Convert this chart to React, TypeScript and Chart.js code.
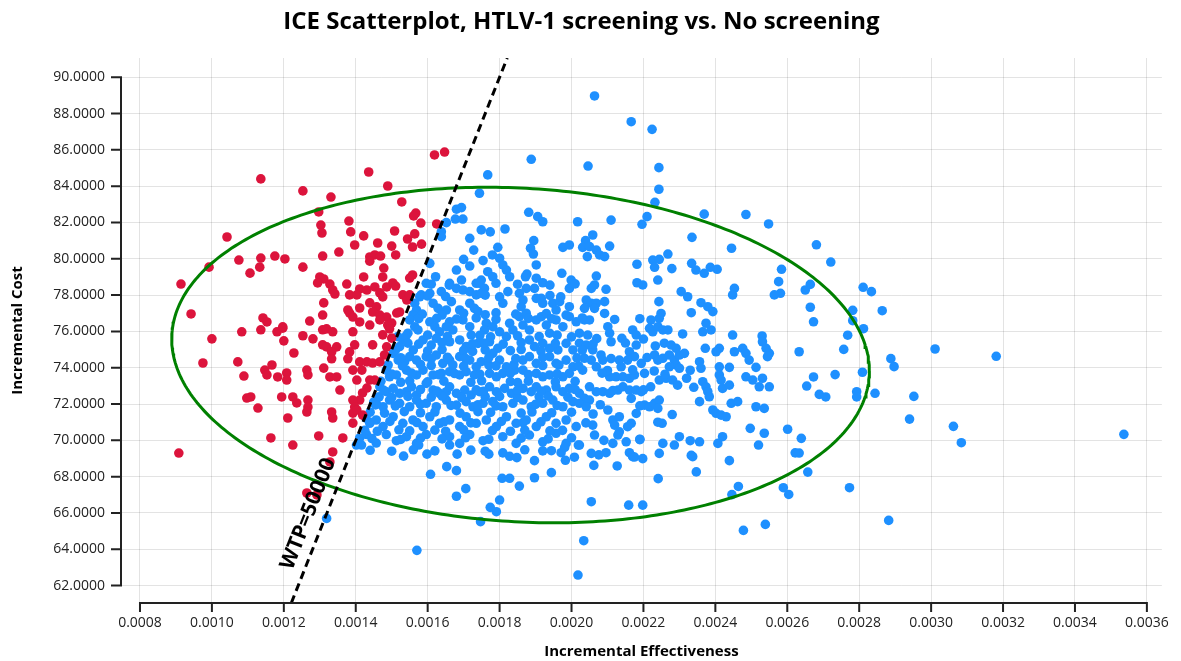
import React, { useEffect, useRef } from "react";
import { Chart, registerables } from "chart.js";

Chart.register(...registerables);

const TITLE = "ICE Scatterplot, HTLV-1 screening vs. No screening";
const X_LABEL = "Incremental Effectiveness";
const Y_LABEL = "Incremental Cost";
const WTP = 50000;
const WTP_LABEL = "WTP=50000";

const xTicks = [0.0008, 0.001, 0.0012, 0.0014, 0.0016, 0.0018, 0.002, 0.0022, 0.0024, 0.0026, 0.0028, 0.003, 0.0032, 0.0034, 0.0036];
const yTicks = [62, 64, 66, 68, 70, 72, 74, 76, 78, 80, 82, 84, 86, 88, 90];
const xRange = [0.0007472, 0.0036417];
const yRange = [61.04, 91.06];

// 95% confidence ellipse (data units)
const ellipseCenter = [0.0018583, 74.7];
const ellipseHalfWidth = 0.00097;
const ellipseTilt = -0.88;
const ellipseHalfHeight = 9.2;

// Not cost-effective simulations (above WTP line)
const notCostEffective: [number, number][] = [
[0.001619,85.72],[0.001647,85.88],[0.001436,84.78],[0.001136,84.40],[0.001489,84.01],[0.001253,83.74],[0.001331,83.40],[0.001528,83.13],[0.001297,82.58],[0.001567,82.52],[0.001561,82.36],[0.001381,82.08],[0.001303,81.86],[0.001306,81.42],[0.001581,81.97],[0.001625,81.92],[0.001508,81.53],[0.001386,81.48],[0.001042,81.20],[0.001422,81.26],[0.001544,81.09],[0.001564,81.37],[0.001461,80.87],[0.001397,80.76],[0.001558,80.65],[0.001583,80.81],[0.001500,80.70],[0.001353,80.37],[0.001308,80.15],[0.001511,80.21],[0.001439,80.10],[0.001453,80.21],[0.001469,80.15],[0.001439,79.87],[0.001075,79.93],[0.001136,80.04],[0.001133,79.54],[0.001175,80.15],[0.001203,79.99],[0.000992,79.54],[0.001253,79.54],[0.001106,79.21],[0.001478,79.49],[0.001558,79.11],[0.001550,78.94],[0.000914,78.61],[0.001300,79.00],[0.001311,78.89],[0.001294,78.67],[0.001422,79.00],[0.001475,79.00],[0.001328,78.61],[0.001336,78.28],[0.001342,78.06],[0.001375,78.61],[0.001453,78.45],[0.001486,78.45],[0.001503,78.67],[0.001511,78.50],[0.001411,78.34],[0.001431,78.28],[0.001383,78.01],[0.001403,78.01],[0.001467,78.12],[0.001475,77.90],[0.001531,78.01],[0.001542,77.73],[0.001550,78.01],[0.001311,77.57],[0.000942,76.96],[0.001378,77.18],[0.001411,77.29],[0.001383,77.01],[0.001392,76.79],[0.001439,77.57],[0.001458,77.35],[0.001447,77.07],[0.001467,76.90],[0.001486,76.79],[0.001514,77.01],[0.001522,77.07],[0.001308,76.90],[0.001142,76.74],[0.001153,76.52],[0.001272,76.57],[0.001197,76.18],[0.001411,76.52],[0.001439,76.35],[0.001500,76.46],[0.001467,76.63],[0.001489,76.35],[0.001083,75.98],[0.001136,76.09],[0.001181,75.98],[0.001197,76.25],[0.001253,75.76],[0.001281,75.59],[0.001308,76.09],[0.001319,76.14],[0.001336,75.98],[0.001392,75.98],[0.001475,75.81],[0.001494,76.14],[0.001500,75.63],[0.001000,75.59],[0.001200,75.48],[0.001308,75.26],[0.001319,75.15],[0.001347,75.15],[0.001333,74.87],[0.001333,74.49],[0.001397,75.26],[0.001383,74.87],[0.001378,74.49],[0.001447,75.26],[0.001486,75.15],[0.001480,74.70],[0.001228,74.81],[0.000975,74.26],[0.001072,74.32],[0.001167,74.15],[0.001147,73.87],[0.001153,73.60],[0.001183,73.49],[0.001208,73.71],[0.001208,73.32],[0.001264,73.87],[0.001267,73.60],[0.001311,73.98],[0.001328,73.49],[0.001347,73.49],[0.001411,74.32],[0.001431,74.32],[0.001447,74.26],[0.001467,74.32],[0.001392,73.87],[0.001417,73.87],[0.001403,73.32],[0.001439,73.32],[0.001453,73.32],[0.001089,73.54],[0.001356,72.77],[0.001431,72.88],[0.001419,72.61],[0.001411,72.22],[0.001194,72.39],[0.001225,72.39],[0.001236,72.06],[0.001097,72.33],[0.001108,72.39],[0.001267,72.22],[0.001267,71.83],[0.001264,71.56],[0.001392,72.22],[0.001397,71.83],[0.001392,71.50],[0.001403,71.67],[0.001419,71.39],[0.001128,71.78],[0.001333,71.56],[0.001336,71.23],[0.001211,71.23],[0.001392,70.95],[0.001297,70.24],[0.001164,70.13],[0.001364,70.13],[0.001225,69.74],[0.000908,69.30],[0.001336,69.36],[0.001328,68.81],[0.001264,67.10],[0.001292,66.99]
];

// Cost-effective simulations (below WTP line)
const costEffective: [number, number][] = [
[0.002064,88.97],[0.002166,87.55],[0.002224,87.13],[0.001888,85.48],[0.002046,85.11],[0.002243,85.02],[0.001767,84.62],[0.002243,83.83],[0.001744,83.61],[0.002232,83.11],[0.002210,82.32],[0.002196,81.90],[0.002369,82.46],[0.002485,82.44],[0.002548,81.92],[0.001680,82.73],[0.001694,82.82],[0.001677,82.19],[0.001698,82.19],[0.001652,81.99],[0.001881,82.56],[0.001906,82.32],[0.001920,82.04],[0.002017,82.04],[0.002110,82.13],[0.001638,81.49],[0.001638,81.22],[0.001749,81.59],[0.001774,81.48],[0.001815,81.64],[0.001717,81.13],[0.002059,81.31],[0.002039,81.00],[0.002031,80.63],[0.002050,80.67],[0.002069,80.48],[0.002078,80.21],[0.002092,80.12],[0.002044,80.12],[0.001895,81.00],[0.001886,80.58],[0.001894,80.26],[0.001976,80.63],[0.001994,80.76],[0.002106,80.70],[0.002335,81.18],[0.002445,80.58],[0.001728,80.48],[0.001795,80.63],[0.001780,80.21],[0.001800,80.03],[0.002268,80.26],[0.001606,79.75],[0.001700,79.97],[0.001717,79.60],[0.001754,79.90],[0.001680,79.38],[0.001809,79.66],[0.001819,79.38],[0.001828,79.01],[0.001767,79.29],[0.001781,79.01],[0.002182,79.70],[0.002226,79.93],[0.002244,79.97],[0.002231,79.53],[0.002279,79.46],[0.002334,79.75],[0.002346,79.38],[0.002369,79.20],[0.002386,79.53],[0.002405,79.42],[0.002584,79.42],[0.002576,78.74],[0.002581,78.10],[0.001622,79.01],[0.001694,78.83],[0.001735,78.65],[0.001749,78.83],[0.001872,79.01],[0.001876,79.16],[0.001902,78.93],[0.001920,78.68],[0.001973,79.20],[0.001999,78.83],[0.002069,79.05],[0.002064,78.56],[0.002055,78.37],[0.002096,78.32],[0.002182,78.68],[0.002198,78.56],[0.002240,78.83],[0.002453,78.37],[0.002448,78.01],[0.001596,78.65],[0.001582,78.01],[0.001680,78.37],[0.001698,78.28],[0.001717,78.19],[0.001735,78.01],[0.001823,78.19],[0.001855,78.10],[0.001874,78.37],[0.001897,78.37],[0.001994,78.37],[0.002305,78.19],[0.002323,77.91],[0.002564,78.01],[0.001902,79.66],[0.001606,78.10],[0.001638,78.19],[0.001661,78.65],[0.001744,78.65],[0.001758,78.37],[0.001749,78.10],
[0.002681,80.77],[0.002721,79.82],[0.002664,78.59],[0.002650,78.28],[0.002811,78.43],[0.002834,78.19],[0.002664,77.33],[0.002782,77.16],[0.002864,77.14],[0.002673,76.53],[0.002782,76.59],[0.002812,76.15],[0.002768,75.79],[0.002633,74.88],[0.002757,75.01],[0.003011,75.03],[0.003181,74.63],[0.002888,74.50],[0.002897,74.06],[0.002809,73.75],[0.002733,73.62],[0.002673,73.49],[0.002654,72.99],[0.002689,72.53],[0.002707,72.39],[0.002793,72.68],[0.002793,72.39],[0.002844,72.59],[0.002952,72.42],[0.002940,71.17],[0.003062,70.77],[0.003084,69.87],[0.003536,70.33],[0.002639,70.11],[0.002633,69.30],[0.002657,68.25],[0.002773,67.39],[0.002882,65.59],
[0.001809,77.55],[0.001865,77.73],[0.001860,77.36],[0.001902,77.82],[0.001916,77.82],[0.001920,77.55],[0.001948,77.55],[0.001967,77.64],[0.001957,77.18],[0.001994,77.36],[0.001615,77.55],[0.001629,77.27],[0.001652,77.18],[0.001666,77.64],[0.001689,77.18],[0.001717,77.55],[0.001730,77.27],[0.001740,77.09],[0.001578,77.91],[0.001564,77.55],[0.001569,77.18],[0.001559,76.91],[0.001550,76.63],[0.001564,76.26],[0.001573,76.08],[0.001545,75.90],[0.001531,75.53],[0.001517,75.71],[0.001606,76.53],[0.001620,76.26],[0.001633,75.98],[0.001661,76.53],[0.001652,76.26],[0.001670,76.08],[0.001698,76.63],[0.001717,76.26],[0.001721,75.80],[0.001763,76.45],[0.001758,76.08],[0.001781,76.26],[0.001800,75.98],[0.001828,76.45],[0.001837,76.08],[0.001819,75.71],[0.001855,76.81],[0.001874,77.00],[0.001865,76.35],[0.001883,76.08],[0.001902,76.63],[0.001916,76.81],[0.001930,76.35],[0.001939,75.90],[0.001957,76.63],[0.001976,76.26],[0.001994,76.81],[0.002013,76.53],[0.001587,75.53],[0.001610,75.25],[0.001624,75.62],[0.001661,75.43],[0.001689,75.53],[0.001707,75.16],[0.001740,75.34],[0.001772,75.43],[0.001795,75.07],[0.001883,75.53],[0.001897,75.16],[0.001920,75.34],[0.001939,75.07],[0.001962,74.98],[0.001985,75.34],[0.002004,74.98],[0.001522,75.16],[0.001504,74.79],[0.001518,74.42],[0.001536,74.33],[0.001550,74.61],[0.001569,74.42],[0.001596,74.61],[0.001624,74.70],[0.001642,74.24],[0.001661,74.42],[0.001689,74.61],[0.001717,74.42],[0.001735,74.05],[0.001749,74.33],[0.001781,74.79],[0.001800,74.42],[0.001819,74.05],[0.001842,73.87],[0.001865,74.42],[0.001883,74.61],[0.001902,74.24],[0.001865,73.87],[0.001939,74.61],[0.001957,74.24],[0.001985,74.42],[0.002004,74.05],[0.001485,73.87],[0.001494,73.50],[0.001513,73.60],[0.001541,73.87],[0.001569,73.60],[0.001587,73.87],[0.001615,73.60],[0.001638,73.69],[0.001661,73.78],[0.001689,73.60],[0.001707,73.78],[0.001730,73.60],[0.001772,73.69],[0.001791,73.50],[0.001809,73.69],[0.001902,73.69],[0.001920,73.50],[0.001939,73.60],[0.001976,73.50],[0.001994,73.69],[0.001467,72.95],[0.001485,72.68],[0.001504,72.86],[0.001522,72.59],[0.001541,72.68],[0.001555,72.95],[0.001569,72.50],[0.001596,73.14],[0.001615,72.77],[0.001633,72.59],[0.001652,72.68],[0.001661,72.95],[0.001680,72.59],[0.001703,72.77],[0.001721,72.50],[0.001744,72.68],[0.001772,72.95],[0.001791,72.68],[0.001814,72.86],[0.001833,72.59],[0.001865,72.86],[0.001888,72.68],[0.001902,72.95],[0.001930,72.77],[0.001957,72.95],[0.001976,72.68],[0.001994,72.86],[0.001450,72.11],[0.001457,72.04],[0.001476,71.85],[0.001494,72.22],[0.001522,72.04],[0.001550,71.85],[0.001569,72.22],[0.001596,72.04],[0.001624,71.85],[0.001652,72.22],[0.001680,71.94],[0.001707,72.13],[0.001726,71.85],[0.001754,72.04],[0.001781,72.13],[0.001809,71.85],[0.001837,72.04],[0.001865,72.22],[0.001888,71.85],[0.001920,72.04],[0.001948,72.22],[0.001976,71.85],[0.002004,72.13],[0.001428,71.23],[0.001439,70.94],[0.001457,71.12],[0.001476,70.76],[0.001504,71.30],[0.001531,70.94],[0.001559,71.12],[0.001587,70.76],[0.001606,71.30],[0.001633,70.94],[0.001661,71.12],[0.001689,70.76],[0.001707,71.30],[0.001735,70.94],[0.001763,71.12],[0.001791,70.76],[0.001819,71.30],[0.001846,70.94],[0.001874,71.12],[0.001902,70.76],[0.001930,71.30],[0.001957,70.94],[0.001985,71.12],[0.002013,70.76],[0.001411,70.13],[0.001430,70.32],[0.001457,69.85],[0.001485,70.32],[0.001513,69.98],[0.001541,70.20],[0.001569,69.83],[0.001596,70.32],[0.001661,70.20],[0.001689,69.83],[0.001717,70.32],[0.001754,69.98],[0.001809,70.20],[0.001846,69.83],[0.001883,70.29],[0.001920,69.92],[0.001957,70.39],[0.001985,69.83],
[0.002092,77.64],[0.002041,77.73],[0.002055,77.55],[0.002069,77.55],[0.002036,77.27],[0.002064,77.27],[0.002243,77.64],[0.002333,77.03],[0.002360,77.58],[0.002379,77.36],[0.002393,77.09],[0.002092,76.99],[0.002036,76.63],[0.002050,76.63],[0.002249,76.99],[0.002244,76.72],[0.002221,76.63],[0.002217,76.17],[0.002226,75.98],[0.002240,76.26],[0.002254,76.08],[0.002268,76.08],[0.002101,76.26],[0.002106,75.90],[0.002110,75.43],[0.002170,76.08],[0.002180,75.80],[0.002374,76.45],[0.002365,75.98],[0.002388,76.08],[0.002309,75.86],[0.002448,75.80],[0.002530,75.75],[0.002531,75.43],[0.002022,75.90],[0.002045,75.80],[0.002022,75.35],[0.002041,75.25],[0.002258,75.35],[0.002277,75.25],[0.002291,75.07],[0.002233,75.20],[0.002180,75.25],[0.002372,75.07],[0.002411,75.07],[0.002402,74.88],[0.002453,74.88],[0.002476,75.07],[0.002485,74.79],[0.002494,74.42],[0.002541,75.07],[0.002550,74.79],[0.002545,74.61],[0.002059,74.98],[0.002082,74.70],[0.002161,74.88],[0.002175,74.61],[0.002156,74.42],[0.002231,74.70],[0.002240,74.42],[0.002254,74.52],[0.002272,74.70],[0.002286,74.42],[0.002300,74.70],[0.002314,74.79],[0.002291,74.15],[0.002272,74.05],[0.002133,74.42],[0.002138,74.05],[0.002036,74.52],[0.002055,74.42],[0.002087,74.42],[0.002069,74.05],[0.002031,73.87],[0.002194,74.24],[0.002203,73.69],[0.002356,74.33],[0.002360,73.97],[0.002411,74.05],[0.002411,73.60],[0.002416,73.32],[0.002420,72.86],[0.002439,74.02],[0.002513,74.02],[0.002300,73.97],[0.002106,73.50],[0.002124,73.50],[0.002143,73.50],[0.002161,73.42],[0.002175,73.60],[0.002244,73.32],[0.002263,73.42],[0.002281,73.32],[0.002295,73.04],[0.002320,73.42],[0.002365,73.23],[0.002374,72.95],[0.002379,72.68],[0.002439,73.04],[0.002485,73.50],[0.002504,73.32],[0.002522,72.95],[0.002531,73.42],[0.002550,72.95],[0.002050,72.95],[0.002069,72.68],[0.002087,72.68],[0.002106,72.59],[0.002129,72.77],[0.002143,72.95],[0.002161,72.77],[0.002180,72.77],[0.002194,72.68],[0.002022,72.59],[0.002036,72.31],[0.002050,72.22],[0.002022,72.04],[0.002041,71.85],[0.002166,72.31],[0.002203,71.94],[0.002217,71.85],[0.002231,72.04],[0.002244,72.22],[0.002240,71.76],[0.002356,72.13],[0.002383,72.40],[0.002444,72.04],[0.002462,72.13],[0.002513,71.85],[0.002536,71.76],[0.002393,71.67],[0.002402,71.49],[0.002416,71.39],[0.002430,71.30],[0.002101,71.67],[0.002115,71.12],[0.002133,71.30],[0.002120,70.84],[0.002059,70.84],[0.002166,70.94],[0.002156,70.75],[0.002252,70.94],[0.002133,70.47],[0.002129,70.29],[0.002064,70.29],[0.002115,69.83],[0.002152,69.92],[0.002022,69.74],[0.002254,69.83],[0.002244,69.28],[0.002300,70.20],[0.002286,69.74],[0.002356,69.92],[0.002420,70.20],[0.002407,69.83],[0.002497,70.66],[0.002536,70.39],[0.002520,69.74],[0.002601,70.61],[0.002622,69.31],[0.002161,69.32],[0.002170,69.10],[0.002055,69.28],[0.002096,69.32],[0.002337,69.10],
[0.001402,69.74],[0.001416,69.74],[0.001533,69.13],[0.001575,69.74],[0.001598,69.24],[0.001608,68.13],[0.001661,69.74],[0.001682,69.24],[0.001653,68.55],[0.001680,68.33],[0.001680,66.92],[0.001706,67.34],[0.001570,63.94],[0.001770,69.24],[0.001809,69.31],[0.001828,69.12],[0.001848,69.05],[0.001807,67.91],[0.001828,67.91],[0.001855,67.48],[0.001800,66.71],[0.001774,66.31],[0.001791,66.07],[0.001747,65.52],[0.001897,68.88],[0.001897,67.94],[0.001944,69.43],[0.001971,69.32],[0.001981,69.61],[0.001944,68.22],[0.001983,68.90],[0.002008,69.07],[0.002019,69.74],[0.002076,69.20],[0.002062,68.62],[0.002055,66.62],[0.002127,68.59],[0.002175,69.08],[0.002198,68.99],[0.002159,66.43],[0.002198,66.43],[0.002241,67.89],[0.002034,64.47],[0.002018,62.58],[0.001319,65.70],
[0.002333,69.17],[0.002347,68.26],[0.002439,68.88],[0.002464,67.46],[0.002446,67.01],[0.002589,67.39],[0.002604,67.02],[0.002478,65.04],[0.002539,65.37],
[0.001610,78.60],[0.001660,78.55],[0.001790,78.65],[0.001850,78.60],[0.001940,78.55],[0.002010,78.62],
[0.001600,77.95],[0.001650,77.92],[0.001760,78.00],[0.001800,77.90],[0.001940,77.98],[0.001970,77.90],
[0.001585,76.95],[0.001640,76.90],[0.001700,77.00],[0.001760,76.92],[0.001790,77.02],[0.001845,76.95],[0.001930,76.98],[0.001985,76.90],
[0.001540,75.75],[0.001600,75.80],[0.001655,75.72],[0.001745,75.78],[0.001775,75.70],[0.001850,75.76],[0.001910,75.72],[0.001960,75.80],[0.002000,75.70],
[0.001510,74.95],[0.001560,74.98],[0.001600,74.92],[0.001640,75.00],[0.001700,74.95],[0.001725,74.90],[0.001760,74.98],[0.001830,74.94],[0.001860,75.00],[0.001915,74.92],[0.002030,74.96],
[0.001490,74.15],[0.001530,74.10],[0.001580,74.18],[0.001610,74.12],[0.001670,74.15],[0.001700,74.08],[0.001770,74.16],[0.001790,74.10],[0.001840,74.18],[0.001920,74.12],[0.001965,74.15],[0.002020,74.10],
[0.001470,73.25],[0.001525,73.20],[0.001550,73.28],[0.001600,73.22],[0.001645,73.26],[0.001720,73.20],[0.001750,73.28],[0.001830,73.24],[0.001850,73.18],[0.001880,73.26],[0.001955,73.22],[0.002010,73.25],
[0.001465,72.40],[0.001500,72.36],[0.001545,72.42],[0.001610,72.38],[0.001640,72.44],[0.001695,72.36],[0.001760,72.40],[0.001800,72.42],[0.001850,72.36],[0.001910,72.40],[0.001935,72.44],[0.001990,72.38],
[0.001440,71.55],[0.001480,71.50],[0.001535,71.58],[0.001580,71.52],[0.001620,71.56],[0.001690,71.50],[0.001740,71.58],[0.001775,71.54],[0.001860,71.50],[0.001890,71.56],[0.001945,71.52],[0.002000,71.55],
[0.001425,70.55],[0.001460,70.50],[0.001520,70.58],[0.001550,70.52],[0.001620,70.56],[0.001650,70.50],[0.001700,70.58],[0.001780,70.54],[0.001830,70.50],[0.001870,70.56],[0.001940,70.52],[0.001975,70.55],
[0.001440,69.45],[0.001500,69.40],[0.001560,69.48],[0.001620,69.42],[0.001720,69.46],[0.001760,69.40],[0.001870,69.48],[0.001920,69.42],
[0.002070,75.60],[0.002140,75.62],[0.002200,75.58],[0.002100,73.85],[0.002170,73.88],[0.002230,73.82],[0.002330,73.86],[0.002220,72.95],[0.002340,72.92],[0.002060,71.45],[0.002180,71.48],[0.002280,71.42],[0.002090,70.00],[0.002190,70.04],[0.002330,69.98],
[0.001575,76.70],[0.001625,76.72],[0.001680,76.68],[0.001735,76.74],[0.001790,76.66],[0.001880,76.72],[0.001945,76.70],[0.002030,76.74],[0.002120,76.66],[0.002190,76.70],
[0.001545,75.35],[0.001575,75.30],[0.001640,75.38],[0.001725,75.32],[0.001755,75.36],[0.001810,75.30],[0.001860,75.38],[0.001955,75.34],[0.002060,75.30],[0.002150,75.36],
[0.001525,74.55],[0.001610,74.50],[0.001655,74.58],[0.001705,74.52],[0.001770,74.56],[0.001845,74.50],[0.001920,74.58],[0.002015,74.54],[0.002110,74.50],[0.002210,74.56],
[0.001500,73.65],[0.001555,73.70],[0.001630,73.62],[0.001675,73.68],[0.001745,73.64],[0.001830,73.70],[0.001880,73.62],[0.001960,73.66],[0.002085,73.70],[0.002260,73.64],
[0.001478,72.75],[0.001580,72.80],[0.001625,72.72],[0.001735,72.78],[0.001755,72.70],[0.001850,72.76],[0.001915,72.72],[0.002010,72.80],[0.002115,72.74],[0.002200,72.78],
[0.001455,71.95],[0.001510,71.90],[0.001580,71.98],[0.001665,71.92],[0.001740,71.96],[0.001790,71.90],[0.001900,71.98],[0.001960,71.92],[0.002080,71.96],[0.002190,71.90],
[0.001440,71.00],[0.001495,71.04],[0.001570,70.98],[0.001645,71.02],[0.001720,70.96],[0.001805,71.04],[0.001865,70.98],[0.001915,71.02],[0.002040,70.96],[0.002240,71.00],
[0.001445,70.10],[0.001525,70.05],[0.001580,70.12],[0.001640,70.08],[0.001705,70.14],[0.001770,70.06],[0.001860,70.12],[0.001935,70.08],[0.002000,70.14],[0.002190,70.06]
];

const FONT = "'Open Sans', 'Noto Sans', sans-serif";

const overlayPlugin = {
  id: "axesOverlay",
  afterDraw(chart: any) {
    const { ctx, chartArea, scales } = chart;
    const xs = scales.x;
    const ys = scales.y;
    ctx.save();
    ctx.strokeStyle = "#222";
    ctx.lineWidth = 2;
    ctx.lineCap = "square";
    ctx.beginPath();
    const L = chartArea.left;
    const yTop = ys.getPixelForValue(yTicks[yTicks.length - 1]);
    const yBot = ys.getPixelForValue(yTicks[0]);
    ctx.moveTo(L, yTop);
    ctx.lineTo(L, yBot);
    yTicks.forEach((v) => {
      const p = ys.getPixelForValue(v);
      ctx.moveTo(L - 9, p);
      ctx.lineTo(L, p);
    });
    const B = chartArea.bottom;
    const xL = xs.getPixelForValue(xTicks[0]);
    const xR = xs.getPixelForValue(xTicks[xTicks.length - 1]);
    ctx.moveTo(xL, B);
    ctx.lineTo(xR, B);
    xTicks.forEach((v) => {
      const p = xs.getPixelForValue(v);
      ctx.moveTo(p, B);
      ctx.lineTo(p, B + 8);
    });
    ctx.stroke();

    // WTP label along the threshold line
    const anchorCost = 65.6;
    const ax = xs.getPixelForValue(anchorCost / WTP);
    const ay = ys.getPixelForValue(anchorCost);
    const p1x = xs.getPixelForValue(62 / WTP), p1y = ys.getPixelForValue(62);
    const p2x = xs.getPixelForValue(90 / WTP), p2y = ys.getPixelForValue(90);
    const ang = Math.atan2(p2y - p1y, p2x - p1x);
    ctx.translate(ax, ay);
    ctx.rotate(ang);
    ctx.font = `bold 21px ${FONT}`;
    ctx.fillStyle = "#000";
    ctx.textAlign = "center";
    ctx.textBaseline = "middle";
    ctx.fillText(WTP_LABEL, 0, -17);
    ctx.restore();
  },
};

export default function App() {
  const ref = useRef<HTMLCanvasElement>(null);
  useEffect(() => {
    const canvas = ref.current;
    if (!canvas) return;
    Chart.defaults.font.family = FONT;

    const ellipsePts: { x: number; y: number }[] = [];
    for (let i = 0; i <= 360; i++) {
      const t = (i * Math.PI) / 180;
      ellipsePts.push({
        x: ellipseCenter[0] + ellipseHalfWidth * Math.cos(t),
        y: ellipseCenter[1] + ellipseTilt * Math.cos(t) + ellipseHalfHeight * Math.sin(t),
      });
    }
    const wtpPts = [
      { x: yRange[0] / WTP, y: yRange[0] },
      { x: yRange[1] / WTP, y: yRange[1] },
    ];

    const chart = new Chart(canvas, {
      type: "scatter",
      data: {
        datasets: [
          {
            label: "WTP",
            data: wtpPts,
            showLine: true,
            borderColor: "#000",
            borderWidth: 3,
            borderDash: [8, 5],
            pointRadius: 0,
            clip: 0,
          } as any,
          {
            label: "Ellipse",
            data: ellipsePts,
            showLine: true,
            borderColor: "#008000",
            borderWidth: 3,
            pointRadius: 0,
            tension: 0,
          } as any,
          {
            label: "Not cost-effective",
            data: notCostEffective.map(([x, y]) => ({ x, y })),
            pointBackgroundColor: "#DC143C",
            pointBorderColor: "#DC143C",
            pointBorderWidth: 0,
            pointRadius: 4.8,
          } as any,
          {
            label: "Cost-effective",
            data: costEffective.map(([x, y]) => ({ x, y })),
            pointBackgroundColor: "#1E90FF",
            pointBorderColor: "#1E90FF",
            pointBorderWidth: 0,
            pointRadius: 4.8,
          } as any,
        ],
      },
      options: {
        responsive: false,
        animation: false,
        devicePixelRatio: 1,
        events: [],
        layout: { padding: { top: 0, left: 0, right: 18, bottom: 0 } },
        plugins: {
          legend: { display: false },
          tooltip: { enabled: false },
          title: {
            display: true,
            text: TITLE,
            color: "#000",
            font: { size: 24, weight: "bold", family: FONT },
            padding: { top: 8, bottom: 21.2 },
          },
        },
        scales: {
          x: {
            type: "linear",
            min: xRange[0],
            max: xRange[1],
            afterBuildTicks: (s: any) => {
              s.ticks = xTicks.map((value) => ({ value }));
            },
            afterFit: (s: any) => {
              s.height = 58;
            },
            ticks: {
              callback: (v: any) => Number(v).toFixed(4),
              font: { size: 14, family: FONT },
              color: "#222",
              padding: 12,
              autoSkip: false,
              maxRotation: 0,
              minRotation: 0,
            },
            grid: { color: "rgba(0,0,0,0.11)", lineWidth: 1, drawTicks: false },
            border: { display: false },
            title: {
              display: true,
              text: X_LABEL,
              color: "#000",
              font: { size: 15, weight: "bold", family: FONT },
              padding: { top: 0, bottom: 0 },
            },
          },
          y: {
            type: "linear",
            min: yRange[0],
            max: yRange[1],
            afterBuildTicks: (s: any) => {
              s.ticks = yTicks.map((value) => ({ value }));
            },
            afterFit: (s: any) => {
              s.width = 121;
            },
            ticks: {
              callback: (v: any) => Number(v).toFixed(4),
              font: { size: 14, family: FONT },
              color: "#222",
              padding: 16,
              autoSkip: false,
            },
            grid: { color: "rgba(0,0,0,0.11)", lineWidth: 1, drawTicks: false },
            border: { display: false },
            title: {
              display: true,
              text: Y_LABEL,
              color: "#000",
              font: { size: 15, weight: "bold", family: FONT },
              padding: { top: 9, bottom: 0 },
            },
          },
        },
      } as any,
      plugins: [overlayPlugin],
    });
    return () => chart.destroy();
  }, []);

  return (
    <div style={{ position: "fixed", left: 0, top: 0, width: 1181, height: 661, background: "#fff" }}>
      <canvas ref={ref} width={1181} height={661} style={{ display: "block", width: 1181, height: 661 }} />
    </div>
  );
}
